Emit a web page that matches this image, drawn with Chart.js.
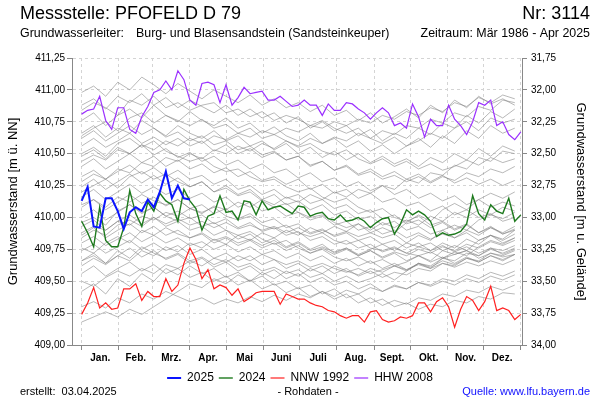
<!DOCTYPE html>
<html>
<head>
<meta charset="utf-8">
<script src="https://cdn.jsdelivr.net/npm/chart.js@4.4.1/dist/chart.umd.min.js"></script>
<style>
	body { margin: 0; background: #fff; }
	canvas { display: block; }
</style>
</head>
<body>
<canvas id="chart" width="600" height="400"></canvas>
<script>
	// texts
	var titleLeft = 'Messstelle: PFOFELD D 79';
	var titleRight = 'Nr: 3114';
	var subLeft = 'Grundwasserleiter:';
	var subAquifer = 'Burg- und Blasensandstein (Sandsteinkeuper)';
	var subRight = 'Zeitraum: Mär 1986 - Apr 2025';
	var footLeft = 'erstellt:  03.04.2025';
	var footMid = '- Rohdaten -';
	var footRight = 'Quelle: www.lfu.bayern.de';
	var leftTitle = 'Grundwasserstand [m ü. NN]';
	var rightTitle = 'Grundwasserstand [m u. Gelände]';

	// x axis: day of year
	var monthStarts = [0, 31, 59, 90, 120, 151, 181, 212, 243, 273, 304, 334, 365];
	var monthLabels = ['Jan.', 'Feb.', 'Mrz.', 'Apr.', 'Mai', 'Juni', 'Juli', 'Aug.', 'Sept.', 'Okt.', 'Nov.', 'Dez.'];

	// y axes
	var levelMin = 409.00, levelMax = 411.25, levelStep = 0.25;
	var groundLevel = 443.00; // depth axis = groundLevel - level

	// highlighted series, one value every 5 days from 1 Jan
	var colorStep = 5;
	var labels = ['2025', '2024', 'NNW 1992', 'HHW 2008'];
	var colors = ['#0a14ff', '#1e7a1e', '#ff2020', '#9b30ff'];

	var values2025 = [410.13, 410.24, 409.93, 409.92, 410.15, 410.15, 410.05, 409.91, 410.04, 410.08,
		410.05, 410.14, 410.08, 410.20, 410.36, 410.15, 410.25, 410.15, 410.14];

	var values2024 = [409.97, 409.88, 409.77, 410.08, 409.82, 409.77, 409.77, 409.92, 410.21, 410.03,
		409.93, 410.12, 410.05, 410.19, 410.13, 410.10, 409.97, 410.22, 410.13, 410.07,
		409.90, 410.01, 410.03, 410.17, 410.04, 410.05, 409.98, 410.13, 410.12, 410.02,
		410.13, 410.06, 410.08, 410.09, 410.06, 410.03, 410.09, 410.08, 410.01, 410.03,
		410.04, 409.99, 409.98, 410.02, 409.97, 409.98, 410.00, 409.97, 409.92, 409.96,
		409.99, 410.00, 409.87, 409.95, 410.06, 410.02, 410.05, 410.02, 409.97, 409.85,
		409.88, 409.86, 409.87, 409.89, 409.95, 410.17, 410.03, 409.98, 410.10, 410.05,
		410.03, 410.15, 409.97, 410.02];

	var valuesNNW1992 = [409.24, 409.33, 409.45, 409.29, 409.33, 409.28, 409.29, 409.44, 409.44, 409.48,
		409.35, 409.42, 409.38, 409.38, 409.52, 409.42, 409.47, 409.64, 409.76, 409.67,
		409.52, 409.59, 409.44, 409.47, 409.45, 409.39, 409.44, 409.34, 409.37, 409.41,
		409.42, 409.42, 409.42, 409.32, 409.40, 409.38, 409.36, 409.36, 409.33, 409.31,
		409.30, 409.27, 409.26, 409.23, 409.21, 409.23, 409.23, 409.18, 409.26, 409.27,
		409.20, 409.18, 409.19, 409.22, 409.21, 409.23, 409.33, 409.33, 409.26, 409.34,
		409.37, 409.30, 409.14, 409.28, 409.38, 409.35, 409.27, 409.34, 409.46, 409.27,
		409.29, 409.27, 409.20, 409.24];

	var valuesHHW2008 = [410.81, 410.84, 410.85, 410.95, 410.76, 410.69, 410.86, 410.86, 410.69, 410.66,
		410.79, 410.87, 410.98, 411.00, 411.07, 411.00, 411.15, 411.08, 410.92, 410.88,
		411.05, 411.06, 411.04, 410.90, 411.04, 410.88, 410.94, 411.02, 410.97, 410.98,
		410.99, 410.92, 410.92, 410.95, 410.91, 410.87, 410.88, 410.92, 410.88, 410.88,
		410.80, 410.89, 410.84, 410.84, 410.90, 410.89, 410.85, 410.82, 410.77, 410.82,
		410.86, 410.82, 410.72, 410.74, 410.70, 410.89, 410.79, 410.63, 410.77, 410.72,
		410.72, 410.88, 410.77, 410.72, 410.65, 410.75, 410.90, 410.88, 410.92, 410.72,
		410.75, 410.65, 410.61, 410.67];

	// other years (grey), one value every 10 days from 1 Jan
	var greyStep = 10;
	var grey01 = [410.98, 411.03, 410.95, 411.06, 411.00, 411.10, 411.04, 410.97, 411.05, 410.99, 410.93, 411.00, 410.95, 410.90, 410.96, 410.88, 410.93, 410.86, 410.90, 410.83, 410.88, 410.80, 410.84, 410.76, 410.82, 410.74, 410.79, 410.85, 410.78, 410.88, 410.82, 410.92, 410.86, 410.95, 410.89, 410.93, 410.88];
	var grey02 = [410.88, 410.93, 410.85, 410.95, 410.90, 410.97, 410.88, 410.94, 410.86, 410.92, 410.87, 410.82, 410.88, 410.80, 410.85, 410.78, 410.82, 410.74, 410.79, 410.70, 410.75, 410.68, 410.72, 410.64, 410.69, 410.60, 410.66, 410.62, 410.70, 410.65, 410.74, 410.70, 410.80, 410.74, 410.83, 410.78, 410.85];
	var grey03 = [410.76, 410.82, 410.72, 410.80, 410.85, 410.78, 410.88, 410.80, 410.75, 410.83, 410.76, 410.72, 410.78, 410.70, 410.74, 410.66, 410.71, 410.64, 410.60, 410.66, 410.58, 410.62, 410.55, 410.60, 410.52, 410.57, 410.50, 410.56, 410.62, 410.55, 410.64, 410.58, 410.68, 410.62, 410.72, 410.66, 410.70];
	var grey04 = [410.66, 410.72, 410.63, 410.70, 410.66, 410.76, 410.70, 410.64, 410.72, 410.66, 410.62, 410.68, 410.60, 410.64, 410.56, 410.60, 410.53, 410.58, 410.50, 410.55, 410.47, 410.52, 410.45, 410.50, 410.43, 410.48, 410.42, 410.46, 410.40, 410.47, 410.43, 410.50, 410.45, 410.54, 410.48, 410.56, 410.52];
	var grey05 = [410.56, 410.62, 410.55, 410.60, 410.66, 410.58, 410.63, 410.57, 410.62, 410.56, 410.60, 410.52, 410.57, 410.50, 410.54, 410.47, 410.51, 410.45, 410.48, 410.40, 410.44, 410.37, 410.41, 410.34, 410.38, 410.32, 410.36, 410.30, 410.34, 410.28, 410.33, 410.27, 410.31, 410.26, 410.30, 410.25, 410.29];
	var grey06 = [410.48, 410.53, 410.46, 410.55, 410.50, 410.57, 410.49, 410.54, 410.47, 410.51, 410.44, 410.48, 410.41, 410.45, 410.38, 410.42, 410.35, 410.38, 410.31, 410.35, 410.28, 410.31, 410.24, 410.28, 410.21, 410.25, 410.18, 410.22, 410.15, 410.19, 410.13, 410.17, 410.10, 410.14, 410.08, 410.12, 410.09];
	var grey07 = [410.40, 410.46, 410.38, 410.44, 410.50, 410.43, 410.48, 410.40, 410.45, 410.38, 410.42, 410.35, 410.39, 410.32, 410.36, 410.29, 410.32, 410.26, 410.30, 410.22, 410.26, 410.19, 410.22, 410.15, 410.19, 410.12, 410.15, 410.09, 410.12, 410.05, 410.09, 410.02, 410.06, 410.00, 410.03, 409.97, 410.00];
	var grey08 = [410.32, 410.37, 410.30, 410.36, 410.41, 410.34, 410.39, 410.32, 410.37, 410.30, 410.33, 410.26, 410.30, 410.22, 410.25, 410.18, 410.22, 410.15, 410.18, 410.11, 410.14, 410.07, 410.10, 410.03, 410.06, 409.99, 410.02, 409.95, 409.98, 409.92, 409.96, 409.90, 409.94, 409.88, 409.93, 409.87, 409.91];
	var grey09 = [410.24, 410.30, 410.22, 410.28, 410.34, 410.27, 410.33, 410.26, 410.31, 410.24, 410.28, 410.20, 410.25, 410.18, 410.22, 410.14, 410.18, 410.10, 410.13, 410.06, 410.10, 410.02, 410.05, 409.98, 410.01, 409.94, 409.97, 409.90, 409.93, 409.87, 409.90, 409.84, 409.88, 409.82, 409.86, 409.80, 409.84];
	var grey10 = [410.16, 410.22, 410.14, 410.20, 410.26, 410.19, 410.24, 410.18, 410.22, 410.15, 410.19, 410.12, 410.16, 410.08, 410.12, 410.05, 410.08, 410.01, 410.04, 409.98, 410.01, 409.94, 409.97, 409.90, 409.93, 409.87, 409.90, 409.84, 409.88, 409.83, 409.87, 409.84, 409.90, 409.86, 409.92, 409.88, 409.93];
	var grey11 = [410.08, 410.14, 410.06, 410.12, 410.18, 410.11, 410.16, 410.09, 410.14, 410.07, 410.10, 410.03, 410.07, 409.99, 410.03, 409.96, 409.99, 409.92, 409.95, 409.88, 409.91, 409.85, 409.88, 409.82, 409.85, 409.79, 409.82, 409.76, 409.80, 409.74, 409.78, 409.73, 409.77, 409.72, 409.76, 409.71, 409.75];
	var grey12 = [410.00, 410.06, 409.98, 410.04, 410.10, 410.03, 410.08, 410.01, 410.05, 409.99, 410.02, 409.95, 409.99, 409.92, 409.96, 409.89, 409.92, 409.86, 409.89, 409.82, 409.85, 409.79, 409.82, 409.76, 409.79, 409.73, 409.76, 409.72, 409.77, 409.74, 409.80, 409.76, 409.83, 409.79, 409.86, 409.82, 409.87];
	var grey13 = [409.93, 409.98, 409.90, 409.97, 410.02, 409.95, 410.00, 409.93, 409.97, 409.90, 409.93, 409.86, 409.90, 409.83, 409.87, 409.80, 409.84, 409.77, 409.81, 409.75, 409.79, 409.72, 409.76, 409.70, 409.74, 409.68, 409.72, 409.66, 409.70, 409.65, 409.69, 409.64, 409.69, 409.65, 409.70, 409.66, 409.71];
	var grey14 = [409.86, 409.92, 409.84, 409.90, 409.95, 409.88, 409.93, 409.86, 409.90, 409.84, 409.87, 409.80, 409.84, 409.78, 409.82, 409.76, 409.80, 409.74, 409.78, 409.72, 409.76, 409.71, 409.75, 409.70, 409.74, 409.69, 409.73, 409.70, 409.75, 409.72, 409.77, 409.74, 409.79, 409.76, 409.81, 409.78, 409.82];
	var grey15 = [409.80, 409.85, 409.78, 409.83, 409.88, 409.81, 409.86, 409.80, 409.84, 409.78, 409.81, 409.75, 409.79, 409.73, 409.77, 409.71, 409.74, 409.68, 409.72, 409.66, 409.70, 409.64, 409.68, 409.62, 409.66, 409.60, 409.64, 409.59, 409.63, 409.60, 409.64, 409.61, 409.65, 409.62, 409.66, 409.63, 409.67];
	var grey16 = [409.74, 409.79, 409.72, 409.77, 409.82, 409.75, 409.80, 409.74, 409.78, 409.71, 409.75, 409.68, 409.72, 409.66, 409.70, 409.63, 409.67, 409.60, 409.64, 409.58, 409.62, 409.56, 409.60, 409.54, 409.58, 409.53, 409.57, 409.55, 409.60, 409.58, 409.64, 409.62, 409.68, 409.66, 409.72, 409.70, 409.74];
	var grey17 = [409.66, 409.72, 409.64, 409.70, 409.76, 409.69, 409.74, 409.67, 409.71, 409.64, 409.68, 409.61, 409.65, 409.58, 409.62, 409.55, 409.59, 409.52, 409.56, 409.49, 409.53, 409.47, 409.50, 409.44, 409.48, 409.42, 409.46, 409.44, 409.49, 409.47, 409.52, 409.50, 409.55, 409.52, 409.57, 409.54, 409.58];
	var grey18 = [409.56, 409.62, 409.54, 409.60, 409.65, 409.58, 409.63, 409.56, 409.60, 409.53, 409.57, 409.50, 409.54, 409.47, 409.51, 409.44, 409.48, 409.41, 409.45, 409.38, 409.42, 409.36, 409.40, 409.33, 409.37, 409.31, 409.35, 409.32, 409.37, 409.35, 409.40, 409.38, 409.43, 409.41, 409.46, 409.43, 409.47];
	var grey19 = [409.42, 409.48, 409.40, 409.52, 409.46, 409.56, 409.50, 409.60, 409.55, 409.62, 409.56, 409.60, 409.53, 409.57, 409.50, 409.54, 409.47, 409.50, 409.44, 409.47, 409.40, 409.44, 409.37, 409.40, 409.33, 409.36, 409.30, 409.33, 409.28, 409.32, 409.30, 409.35, 409.33, 409.38, 409.36, 409.41, 409.40];
	var grey20 = [409.18, 409.22, 409.26, 409.22, 409.28, 409.24, 409.30, 409.36, 409.42, 409.48, 409.45, 409.52, 409.48, 409.55, 409.50, 409.57, 409.52, 409.58, 409.54, 409.60, 409.56, 409.62, 409.58, 409.55, 409.60, 409.57, 409.62, 409.59, 409.64, 409.62, 409.68, 409.66, 409.72, 409.70, 409.76, 409.74, 409.78];
	var grey21 = [410.28, 410.34, 410.30, 410.38, 410.35, 410.43, 410.40, 410.47, 410.44, 410.50, 410.46, 410.53, 410.50, 410.56, 410.52, 410.58, 410.54, 410.60, 410.56, 410.62, 410.58, 410.63, 410.60, 410.66, 410.62, 410.68, 410.65, 410.72, 410.70, 410.77, 410.74, 410.82, 410.79, 410.87, 410.84, 410.92, 410.90];
	var grey22 = [409.88, 409.93, 409.90, 409.97, 409.94, 410.01, 409.98, 410.04, 410.01, 410.07, 410.03, 410.09, 410.06, 410.12, 410.08, 410.14, 410.10, 410.16, 410.12, 410.18, 410.14, 410.20, 410.16, 410.22, 410.19, 410.25, 410.22, 410.30, 410.27, 410.35, 410.33, 410.41, 410.38, 410.47, 410.44, 410.52, 410.50];
	var grey23 = [409.62, 409.68, 409.63, 409.70, 409.66, 409.74, 409.70, 409.77, 409.73, 409.80, 409.76, 409.83, 409.79, 409.86, 409.82, 409.88, 409.84, 409.90, 409.86, 409.92, 409.88, 409.93, 409.89, 409.95, 409.90, 409.96, 409.92, 409.98, 409.94, 410.01, 409.97, 410.04, 410.00, 410.06, 410.02, 410.08, 410.05];
	var grey24 = [410.62, 410.68, 410.60, 410.66, 410.72, 410.65, 410.70, 410.63, 410.67, 410.60, 410.64, 410.57, 410.60, 410.53, 410.56, 410.49, 410.52, 410.45, 410.48, 410.41, 410.44, 410.37, 410.40, 410.33, 410.36, 410.30, 410.33, 410.28, 410.32, 410.27, 410.32, 410.29, 410.35, 410.32, 410.38, 410.35, 410.40];
	var grey25 = [410.84, 410.90, 410.86, 410.80, 410.92, 410.88, 410.95, 410.86, 410.90, 410.84, 410.88, 410.90, 410.82, 410.85, 410.79, 410.83, 410.76, 410.80, 410.77, 410.72, 410.76, 410.70, 410.66, 410.70, 410.62, 410.58, 410.63, 410.56, 410.60, 410.66, 410.62, 410.70, 410.75, 410.68, 410.78, 410.74, 410.77];
	var grey26 = [410.64, 410.70, 410.75, 410.68, 410.78, 410.82, 410.74, 410.80, 410.76, 410.72, 410.77, 410.70, 410.73, 410.66, 410.70, 410.62, 410.65, 410.60, 410.55, 410.58, 410.52, 410.49, 410.53, 410.46, 410.42, 410.46, 410.40, 410.44, 410.38, 410.42, 410.37, 410.40, 410.45, 410.41, 410.47, 410.43, 410.46];
	var grey27 = [410.50, 410.55, 410.48, 410.58, 410.62, 410.55, 410.60, 410.52, 410.48, 410.44, 410.47, 410.40, 410.36, 410.38, 410.32, 410.28, 410.30, 410.24, 410.20, 410.23, 410.16, 410.12, 410.15, 410.08, 410.04, 410.07, 410.00, 409.97, 410.01, 409.94, 409.97, 409.91, 409.95, 409.88, 409.92, 409.87, 409.90];
	var grey28 = [410.20, 410.25, 410.30, 410.23, 410.32, 410.36, 410.30, 410.34, 410.28, 410.24, 410.28, 410.20, 410.23, 410.17, 410.20, 410.13, 410.08, 410.11, 410.04, 410.00, 410.02, 409.96, 409.92, 409.95, 409.88, 409.84, 409.87, 409.80, 409.77, 409.80, 409.74, 409.71, 409.74, 409.68, 409.72, 409.69, 409.71];
	var grey29 = [409.96, 410.00, 409.94, 410.05, 410.10, 410.04, 410.08, 410.01, 409.97, 410.00, 409.93, 409.96, 409.90, 409.86, 409.89, 409.83, 409.79, 409.82, 409.76, 409.72, 409.75, 409.69, 409.66, 409.69, 409.64, 409.67, 409.62, 409.65, 409.70, 409.66, 409.74, 409.78, 409.74, 409.82, 409.86, 409.83, 409.90];
	var grey30 = [409.76, 409.72, 409.80, 409.85, 409.80, 409.90, 409.86, 409.92, 409.87, 409.84, 409.88, 409.82, 409.85, 409.80, 409.83, 409.78, 409.82, 409.76, 409.80, 409.74, 409.77, 409.73, 409.76, 409.71, 409.75, 409.79, 409.74, 409.80, 409.86, 409.82, 409.90, 409.94, 409.90, 409.98, 410.02, 409.99, 410.04];
	var grey31 = [409.66, 409.70, 409.64, 409.74, 409.68, 409.77, 409.72, 409.68, 409.72, 409.66, 409.69, 409.63, 409.67, 409.61, 409.64, 409.58, 409.61, 409.56, 409.59, 409.53, 409.56, 409.50, 409.54, 409.49, 409.52, 409.56, 409.51, 409.58, 409.64, 409.60, 409.68, 409.73, 409.70, 409.77, 409.82, 409.79, 409.84];
	var grey32 = [409.50, 409.46, 409.53, 409.58, 409.54, 409.60, 409.56, 409.63, 409.60, 409.66, 409.62, 409.68, 409.65, 409.70, 409.66, 409.71, 409.67, 409.63, 409.66, 409.61, 409.64, 409.60, 409.57, 409.60, 409.56, 409.59, 409.62, 409.58, 409.64, 409.61, 409.66, 409.63, 409.68, 409.65, 409.70, 409.67, 409.71];
	var grey33 = [409.30, 409.34, 409.29, 409.37, 409.33, 409.40, 409.36, 409.42, 409.38, 409.34, 409.37, 409.32, 409.36, 409.33, 409.38, 409.34, 409.39, 409.35, 409.40, 409.37, 409.42, 409.38, 409.43, 409.40, 409.45, 409.42, 409.47, 409.44, 409.49, 409.46, 409.50, 409.47, 409.52, 409.49, 409.54, 409.51, 409.55];
	var grey34 = [410.44, 410.49, 410.45, 410.53, 410.50, 410.57, 410.53, 410.60, 410.56, 410.62, 410.58, 410.64, 410.61, 410.66, 410.63, 410.68, 410.65, 410.70, 410.67, 410.72, 410.70, 410.75, 410.72, 410.77, 410.74, 410.80, 410.77, 410.83, 410.80, 410.86, 410.83, 410.90, 410.87, 410.94, 410.90, 410.96, 410.93];
	var grey35 = [409.84, 409.90, 409.86, 409.94, 409.98, 409.93, 410.00, 409.95, 409.99, 409.94, 409.97, 409.92, 409.96, 409.91, 409.94, 409.90, 409.93, 409.88, 409.92, 409.87, 409.90, 409.86, 409.89, 409.85, 409.88, 409.92, 409.88, 409.96, 410.02, 409.97, 410.06, 410.11, 410.06, 410.14, 410.19, 410.15, 410.20];
	var grey36 = [410.10, 410.14, 410.08, 410.16, 410.12, 410.18, 410.13, 410.10, 410.14, 410.07, 410.04, 410.08, 410.01, 409.98, 410.01, 409.94, 409.91, 409.94, 409.88, 409.85, 409.88, 409.82, 409.79, 409.82, 409.76, 409.74, 409.77, 409.72, 409.70, 409.73, 409.68, 409.71, 409.74, 409.70, 409.75, 409.72, 409.76];
	var greyLines = [grey01, grey02, grey03, grey04, grey05, grey06, grey07, grey08, grey09, grey10, grey11, grey12,
		grey13, grey14, grey15, grey16, grey17, grey18, grey19, grey20, grey21, grey22, grey23, grey24,
		grey25, grey26, grey27, grey28, grey29, grey30, grey31, grey32, grey33, grey34, grey35, grey36];

	var fontFamily = '"Liberation Sans", Arial, Helvetica, sans-serif';

	/**
	 * turns a list of values into {x: day, y: value} points
	 */
	function toPoints(values, step) {
		return values.map(function (v, i) {
			return { x: i * step, y: v };
		});
	}

	function comma(v) {
		return v.toFixed(2).replace('.', ',');
	}

	var datasets = [];
	var highlighted = [values2025, values2024, valuesNNW1992, valuesHHW2008];
	var widths = [2, 1.4, 1.2, 1.2];
	highlighted.forEach(function (vals, i) {
		datasets.push({
			label: labels[i],
			data: toPoints(vals, colorStep),
			borderColor: colors[i],
			backgroundColor: colors[i],
			borderWidth: widths[i],
			pointRadius: 0,
			tension: 0,
			fill: false
		});
	});
	greyLines.forEach(function (vals, i) {
		datasets.push({
			label: 'grey' + i,
			data: toPoints(vals, greyStep),
			borderColor: 'rgba(125,125,125,0.55)',
			borderWidth: 1,
			pointRadius: 0,
			tension: 0,
			fill: false
		});
	});

	// header and footer texts
	var textPlugin = {
		id: 'texts',
		afterDraw: function (chart) {
			var ctx = chart.ctx;
			ctx.save();
			ctx.textBaseline = 'middle';
			ctx.fillStyle = '#000';
			ctx.font = '18px ' + fontFamily;
			ctx.textAlign = 'left';
			ctx.fillText(titleLeft, 20, 14);
			ctx.textAlign = 'right';
			ctx.fillText(titleRight, 590, 14);
			ctx.font = '12.4px ' + fontFamily;
			ctx.textAlign = 'left';
			ctx.fillText(subLeft, 20, 34);
			ctx.fillText(subAquifer, 136, 34);
			ctx.textAlign = 'right';
			ctx.fillText(subRight, 590, 34);
			ctx.font = '11px ' + fontFamily;
			ctx.textAlign = 'left';
			ctx.fillText(footLeft, 20, 392);
			ctx.textAlign = 'center';
			ctx.fillText(footMid, 308, 392);
			ctx.textAlign = 'right';
			ctx.fillStyle = '#1010ff';
			ctx.fillText(footRight, 590, 392);
			ctx.restore();
		}
	};

	var ctx = document.getElementById('chart').getContext('2d');
	var chart = new Chart(ctx, {
		type: 'line',
		data: { datasets: datasets },
		plugins: [textPlugin],
		options: {
			responsive: false,
			animation: false,
			devicePixelRatio: 1,
			events: [],
			layout: { padding: { top: 58, left: 0, right: 0, bottom: 6 } },
			plugins: {
				tooltip: { enabled: false },
				legend: {
					position: 'bottom',
					labels: {
						filter: function (item) { return item.datasetIndex < 4; },
						usePointStyle: true,
						pointStyle: 'line',
						pointStyleWidth: 14,
						padding: 5,
						color: '#000',
						font: { family: fontFamily, size: 12 }
					}
				}
			},
			scales: {
				x: {
					type: 'linear',
					min: -8,
					max: 366,
					afterBuildTicks: function (scale) {
						var t = [];
						monthStarts.forEach(function (d, i) {
							t.push({ value: d, start: true, name: '' });
							if (i < monthLabels.length) {
								t.push({ value: (d + monthStarts[i + 1]) / 2, start: false, name: monthLabels[i] });
							}
						});
						scale.ticks = t;
					},
					afterFit: function (scale) { scale.height = 22; },
					ticks: {
						autoSkip: false,
						maxRotation: 0,
						padding: 2,
						color: '#000',
						font: { family: fontFamily, size: 10, weight: 'bold' },
						callback: function (value, index, ticks) { return ticks[index].name; }
					},
					grid: {
						color: function (c) { return c.tick && c.tick.start ? '#d4d4d4' : 'rgba(0,0,0,0)'; },
						tickColor: function (c) { return c.tick && c.tick.start ? '#888' : 'rgba(0,0,0,0)'; },
						tickLength: 5,
						tickBorderDash: []
					},
					border: { color: '#888', width: 1, dash: [3, 3] }
				},
				y: {
					position: 'left',
					min: levelMin,
					max: levelMax,
					afterFit: function (scale) { scale.width = 72; },
					ticks: {
						stepSize: levelStep,
						padding: 2,
						color: '#000',
						font: { family: fontFamily, size: 10 },
						callback: function (v) { return comma(v); }
					},
					grid: { color: '#d4d4d4', tickColor: '#888', tickLength: 5, tickBorderDash: [] },
					border: { color: '#888', width: 1, dash: [3, 3] },
					title: {
						display: true,
						text: leftTitle,
						color: '#000',
						font: { family: fontFamily, size: 13 },
						padding: { top: 6, bottom: 0 }
					}
				},
				y2: {
					position: 'right',
					min: groundLevel - levelMax,
					max: groundLevel - levelMin,
					reverse: true,
					afterFit: function (scale) { scale.width = 78; },
					ticks: {
						stepSize: levelStep,
						padding: 4,
						color: '#000',
						font: { family: fontFamily, size: 10 },
						callback: function (v) { return comma(v); }
					},
					grid: { drawOnChartArea: false, tickColor: '#888', tickLength: 5, tickBorderDash: [] },
					border: { color: '#888', width: 1 },
					title: {
						display: true,
						text: rightTitle,
						color: '#000',
						font: { family: fontFamily, size: 13 },
						padding: { top: 12, bottom: 0 }
					}
				}
			}
		}
	});
</script>
</body>
</html>
